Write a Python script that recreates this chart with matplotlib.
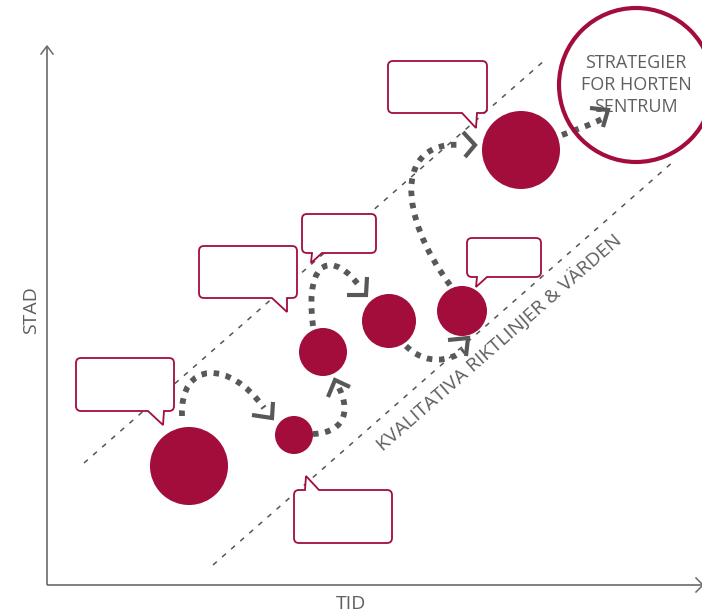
import matplotlib
matplotlib.use('Agg')
import matplotlib.pyplot as plt
from matplotlib.path import Path
from matplotlib.patches import PathPatch, Circle

plt.rcParams['font.family'] = ['Open Sans', 'DejaVu Sans']

CRIMSON = '#A20D3B'
GRAY = '#58585A'

# ---- data (diagram coordinates, y grows downward) ----
node_x = [189, 294, 323, 389, 462, 521]
node_y = [466, 435, 352, 321, 311, 150]
node_r = [39, 19, 24, 27, 25, 39]

goal_x, goal_y, goal_r = 636, 85, 77
goal_label = 'STRATEGIER\nFOR HORTEN\nSENTRUM'

x_label = 'TID'
y_label = 'STAD'
band_label = 'KVALITATIVA RIKTLINJER & VÄRDEN'

band_upper_x = [84, 545]
band_upper_y = [463, 60]
band_lower_x = [213, 674]
band_lower_y = [565, 161]

bubble_x0 = [76, 199, 302, 467, 388, 294]
bubble_y0 = [358, 246, 214, 238, 61, 490]
bubble_x1 = [174, 297, 376, 541, 487, 392]
bubble_y1 = [411, 298, 253, 277, 113, 543]
bubble_tail_a = [148, 272, 312, 477, 462, 305]
bubble_tail_b = [164, 287, 322, 487, 477, 319]
bubble_tip_x = [163, 287, 311, 476, 476, 306]
bubble_tip_y = [425, 312, 263, 287, 128, 476]
bubble_side = ['bottom', 'bottom', 'bottom', 'bottom', 'bottom', 'top']

flow_paths = [
    [(182, 416), (180, 360), (230, 360), (264, 408)],
    [(313, 434), (350, 432), (348, 405), (339, 388)],
    [(313, 326), (304, 255), (335, 252), (360, 287)],
    [(406, 346), (425, 365), (450, 362), (464, 350)],
    [(450, 285), (398, 215), (395, 140), (462, 145)],
    [(562, 135), (575, 130), (590, 125), (602, 119)],
]
arrow_heads = [
    [(252, 415), (272, 418), (273, 402)],
    [(328, 397), (335, 380), (350, 387)],
    [(347, 295), (366, 295), (367, 277)],
    [(448, 340), (468, 338), (466, 356)],
    [(463, 132), (475, 145), (465, 157)],
    [(590, 108), (608, 110), (603, 127)],
]

axis_origin = (47, 585)
axis_top = 46
axis_right = 704

# ---- figure ----
fig = plt.figure(figsize=(7.02, 6.14), dpi=100)
ax = fig.add_axes([0, 0, 1, 1])
ax.set_xlim(0, 702)
ax.set_ylim(614, 0)
ax.axis('off')

# axes
ox, oy = axis_origin
ax.plot([ox, ox], [oy, axis_top], color='#6A6A6A', lw=1.2, solid_capstyle='butt')
ax.plot([ox, axis_right], [oy, oy], color='#6A6A6A', lw=1.2, solid_capstyle='butt')
ax.plot([ox - 6, ox, ox + 6], [axis_top + 8, axis_top, axis_top + 8], color='#6A6A6A', lw=1.1)
ax.plot([axis_right - 8, axis_right - 1, axis_right - 8], [oy - 7, oy, oy + 7], color='#6A6A6A', lw=1.1)
ax.text(31, 310, y_label, rotation=90, ha='center', va='center', fontsize=14, color='#5F5F5F')
ax.text(351, 604, x_label, ha='center', va='center', fontsize=14, color='#5F5F5F')

# band lines
for bx, by in [(band_upper_x, band_upper_y), (band_lower_x, band_lower_y)]:
    ax.plot(bx, by, color='#555555', lw=1.1, ls=(0, (3.3, 4.6)), zorder=1)
ax.text(499, 342, band_label, rotation=41.2, rotation_mode='anchor',
        ha='center', va='center', fontsize=14, color='#5F5F5F', zorder=2)

# bubbles
def bubble_path(x0, y0, x1, y1, a, b, tx, ty, side, r=5):
    verts, codes = [], []
    def M(p): verts.append(p); codes.append(Path.MOVETO)
    def L(p): verts.append(p); codes.append(Path.LINETO)
    def Q(c, p): verts.extend([c, p]); codes.extend([Path.CURVE3, Path.CURVE3])
    M((x0 + r, y0))
    if side == 'top':
        L((a, y0)); L((tx, ty)); L((b, y0))
    L((x1 - r, y0)); Q((x1, y0), (x1, y0 + r))
    L((x1, y1 - r)); Q((x1, y1), (x1 - r, y1))
    if side == 'bottom':
        L((b, y1)); L((tx, ty)); L((a, y1))
    L((x0 + r, y1)); Q((x0, y1), (x0, y1 - r))
    L((x0, y0 + r)); Q((x0, y0), (x0 + r, y0))
    verts.append((x0 + r, y0)); codes.append(Path.CLOSEPOLY)
    return Path(verts, codes)

for i in range(len(bubble_x0)):
    p = bubble_path(bubble_x0[i], bubble_y0[i], bubble_x1[i], bubble_y1[i],
                    bubble_tail_a[i], bubble_tail_b[i], bubble_tip_x[i], bubble_tip_y[i],
                    bubble_side[i])
    ax.add_patch(PathPatch(p, facecolor='white', edgecolor=CRIMSON, lw=1.3,
                           joinstyle='miter', zorder=3))

# flow paths
for pts in flow_paths:
    p = Path(pts, [Path.MOVETO, Path.CURVE4, Path.CURVE4, Path.CURVE4])
    ax.add_patch(PathPatch(p, fill=False, edgecolor=GRAY, lw=4.2, ls=(0, (0.95, 1.15)),
                           capstyle='butt', zorder=4))
for ah in arrow_heads:
    xs, ys = zip(*ah)
    ax.plot(xs, ys, color=GRAY, lw=3.0, solid_joinstyle='miter',
            solid_capstyle='butt', zorder=4)

# nodes
for x, y, r in zip(node_x, node_y, node_r):
    ax.add_patch(Circle((x, y), r, facecolor=CRIMSON, edgecolor='none', zorder=5))

# goal
ax.add_patch(Circle((goal_x, goal_y), goal_r, facecolor='none', edgecolor=CRIMSON,
                    lw=3.0, zorder=5))
ax.text(goal_x, goal_y, goal_label, ha='center', va='center', fontsize=13,
        color='#5F5F5F', linespacing=1.3, zorder=3)

fig.savefig('out.png', dpi=100)
